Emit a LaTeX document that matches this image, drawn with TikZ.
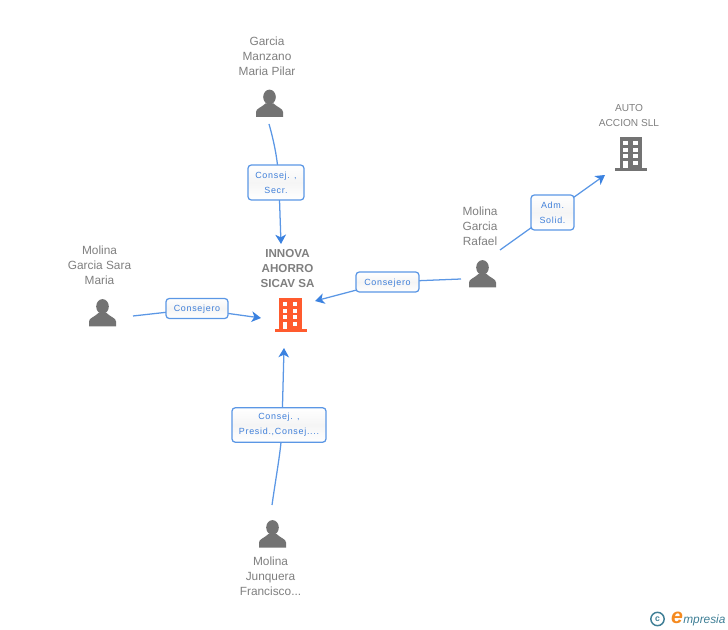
\documentclass[tikz,border=0pt]{standalone}
\usepackage{fontspec}
\setmainfont{Liberation Sans}
\newfontfamily\labfont[LetterSpace=8]{Liberation Sans}
\usetikzlibrary{arrows.meta}
\definecolor{linkc}{HTML}{5B97E5}
\definecolor{tipc}{HTML}{3B82E0}
\definecolor{labc}{HTML}{3F7FD9}
\definecolor{namec}{HTML}{7F7F7F}
\definecolor{iconc}{HTML}{737373}
\definecolor{orangec}{HTML}{FF5B2E}
\definecolor{logoe}{HTML}{F58A1F}
\definecolor{tealc}{HTML}{3F7F96}
\tikzset{
  x=0.75pt,y=-0.75pt,
  conn/.style={draw=linkc,line width=0.95pt},
  connarrow/.style={conn,-{Stealth[length=7pt,width=8pt,inset=2pt,color=tipc]}},
  namelab/.style={inner sep=0pt,align=center,text=namec,font=\fontsize{8.9}{11.25}\selectfont},
  rolelab/.style={draw=linkc,line width=0.95pt,rounded corners=2.5pt,inner sep=0pt,align=center,
    text=labc,font=\labfont\fontsize{6.7}{11.25}\selectfont,
    execute at begin node={\rule{0pt}{6.5pt}},
    top color=white,bottom color=white,middle color=black!4},
  person/.pic={
    \fill[iconc] (0,-20) ellipse (6.3 and 7.4);
    \fill[iconc] (-13.5,0) -- (-13.5,-5) .. controls (-13.5,-8.5) and (-8,-9.5) .. (-4,-13.5)
      -- (4,-13.5) .. controls (8,-9.5) and (13.5,-8.5) .. (13.5,-5) -- (13.5,0) -- cycle;
  },
  building/.pic={
    \fill[pic actions] (-11.3,-34) rectangle (11.3,-3);
    \fill[pic actions] (-16,-3) rectangle (16,0);
    \foreach \yy in {-29.5,-23,-16.5}{
      \fill[white] (-7.8,\yy) rectangle +(4.6,3.8);
      \fill[white] (2,\yy) rectangle +(4.6,3.8);
    }
    \fill[white] (-7.8,-10) rectangle (-3.2,-3);
    \fill[white] (2,-10) rectangle +(4.6,3.8);
  }
}
\begin{document}
\begin{tikzpicture}
\useasboundingbox (0,0) rectangle (728,630);
% icons
\pic at (269.5,117) {person};
\pic at (102.5,326.5) {person};
\pic at (482.5,287.5) {person};
\pic at (272.5,547.5) {person};
\pic[fill=orangec] at (290.5,332) {building};
\pic[fill=iconc] at (631,171) {building};
% names
\node[namelab] (ngarcia) at (267,56) {Garcia\\Manzano\\Maria Pilar};
\node[namelab,font=\fontsize{7.6}{11.25}\selectfont] (nauto) at (629,115.5) {AUTO\\ACCION SLL};
\node[namelab] (nrafael) at (480,226) {Molina\\Garcia\\Rafael};
\node[namelab] (nsara) at (99.5,265) {Molina\\Garcia Sara\\Maria};
\node[namelab,font=\bfseries\fontsize{8.7}{11.25}\selectfont] (ninnova) at (287.5,269) {INNOVA\\AHORRO\\SICAV SA};
\node[namelab] (nfran) at (270.5,576) {Molina\\Junquera\\Francisco...};
% connector ends
\coordinate (sgarcia) at (269,124);
\coordinate (tgarcia) at (281,244);
\coordinate (ssara) at (133,316);
\coordinate (tsara) at (261,318);
\coordinate (srafael) at (461,279);
\coordinate (trafael) at (315,301);
\coordinate (sfran) at (272,505);
\coordinate (tfran) at (284,348);
\coordinate (srafael2) at (500,250);
\coordinate (tauto) at (605,175);
% connectors
\draw[connarrow] (sgarcia) .. controls (275,145) and (278.5,165) .. (279,185) -- (tgarcia);
\draw[connarrow] (ssara) -- (196,309) -- (tsara);
\draw[connarrow] (srafael) -- (387,282) -- (trafael);
\draw[connarrow] (sfran) .. controls (277,470) and (282,445) .. (282,425) -- (tfran);
\draw[connarrow] (srafael2) -- (tauto);
% role labels
\node[rolelab,minimum width=56pt*0.75,minimum height=35pt*0.75] (lgarcia) at (276,182.5) {Consej. ,\\Secr.};
\node[rolelab,minimum width=62pt*0.75,minimum height=20pt*0.75] (lsara) at (197,308.5) {Consejero};
\node[rolelab,minimum width=63pt*0.75,minimum height=20pt*0.75] (lrafael) at (387.5,282) {Consejero};
\node[rolelab,minimum width=94pt*0.75,minimum height=34.5pt*0.75] (lfran) at (279,425) {Consej. ,\\Presid.,Consej....};
\node[rolelab,minimum width=43pt*0.75,minimum height=35pt*0.75] (lauto) at (552.5,212.5) {Adm.\\Solid.};
% logo
\node[draw=tealc,line width=1.1pt,circle,minimum size=10pt,inner sep=0pt,text=tealc,font=\fontsize{6.5}{6.5}\selectfont\bfseries] (lc) at (657.5,619) {c};
\node[inner sep=0pt,text=logoe,font=\itshape\bfseries\fontsize{16}{16}\selectfont] (le) at (677,618) {e};
\node[inner sep=0pt,anchor=west,text=tealc,font=\itshape\fontsize{8.9}{10}\selectfont] (lm) at (683,620) {mpresia};
\end{tikzpicture}
\end{document}
